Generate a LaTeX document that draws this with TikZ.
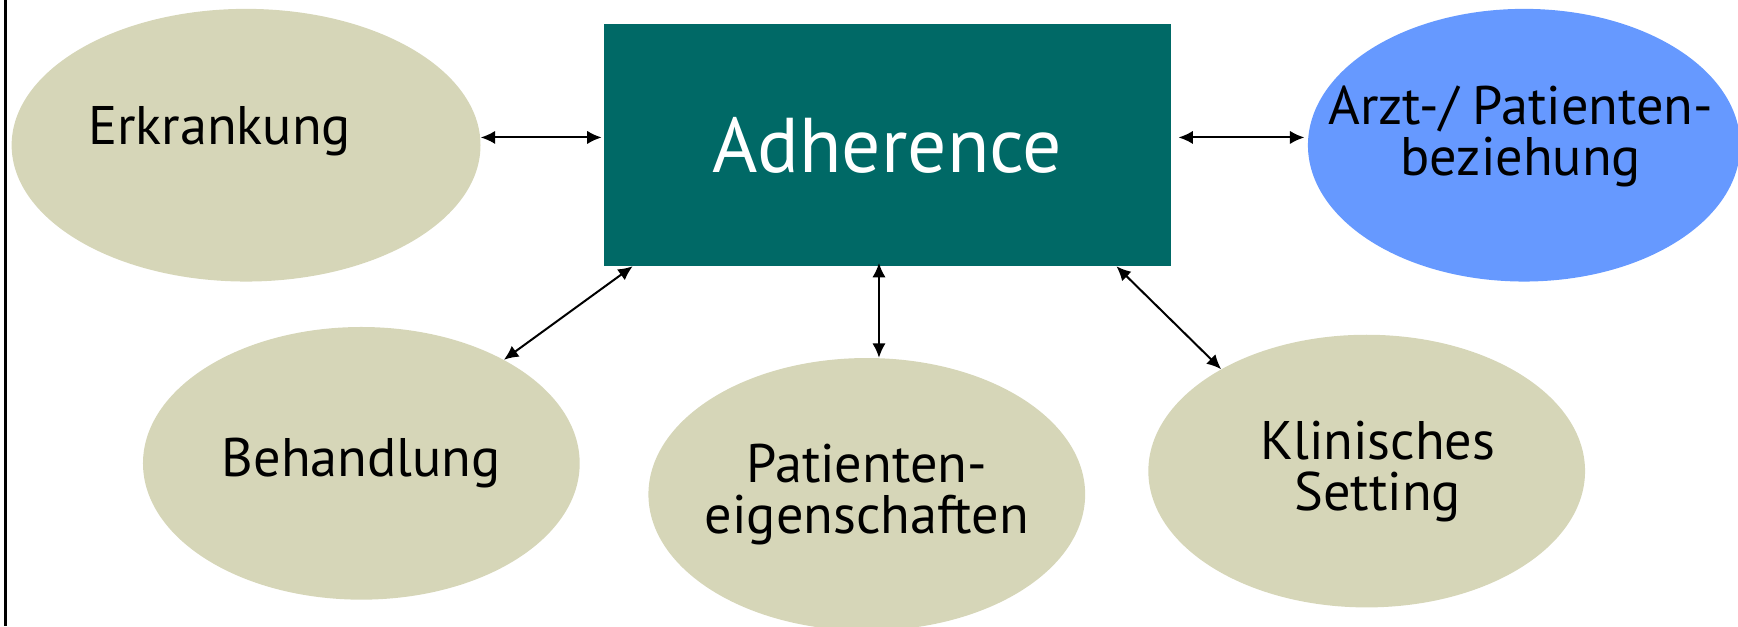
\documentclass[tikz,border=0pt]{standalone}
\usepackage{fontspec}
\setmainfont{PT Sans}
\usetikzlibrary{shapes.geometric,arrows.meta}
\definecolor{factorkhaki}{HTML}{D6D6B8}
\definecolor{adhteal}{HTML}{006966}
\definecolor{arztblue}{HTML}{6699FF}

\begin{document}
\begin{tikzpicture}[x=1pt,y=-1pt]
\tikzstyle{every node}+=[inner sep=0pt]
\tikzstyle{factor}=[ellipse,fill=factorkhaki,minimum width=394pt,minimum height=246pt]
\tikzstyle{factortext}=[font=\fontsize{49}{46}\selectfont,align=center]
\tikzstyle{link}=[{Latex[length=13pt,width=12pt]}-{Latex[length=13pt,width=12pt]},line width=1.8pt]
\useasboundingbox (0,0) rectangle (1568,565);
\draw [line width=2pt] (5,0) -- (5,565);
\node (adh) [fill=adhteal,minimum width=511pt,minimum height=218pt,text=white,font=\fontsize{70}{80}\selectfont] at (800.5,131) {Adherence};
\node (erk) [factor,minimum width=423pt,label={[factortext,xshift=-24pt,yshift=13pt]center:Erkrankung}] at (222,131) {};
\node (arz) [factor,fill=arztblue,minimum width=390pt,label={[factortext,xshift=-3pt,yshift=8pt]center:Arzt-/ Patienten-\\beziehung}] at (1375,131) {};
\node (beh) [factor,label={[factortext]center:Behandlung}] at (326,418) {};
\node (pat) [factor,label={[factortext]center:Patienten-\\eigenschaften}] at (782,446) {};
\node (kli) [factor,label={[factortext,xshift=10pt]center:Klinisches\\Setting}] at (1233,425) {};
\draw [link] ([yshift=7pt]erk.east) -- ([xshift=-2pt,yshift=7pt]adh.west);
\draw [link] ([xshift=7pt,yshift=7pt]adh.east) -- ([xshift=-3pt,yshift=7pt]arz.west);
\draw [link] (beh) -- ([xshift=26pt]adh.south west);
\draw [link] ([xshift=11pt]pat.north) -- ([xshift=11pt,yshift=3pt]pat.north |- adh.south);
\draw [link] (kli.145) -- ([xshift=-49pt]adh.south east);
\end{tikzpicture}
\end{document}
